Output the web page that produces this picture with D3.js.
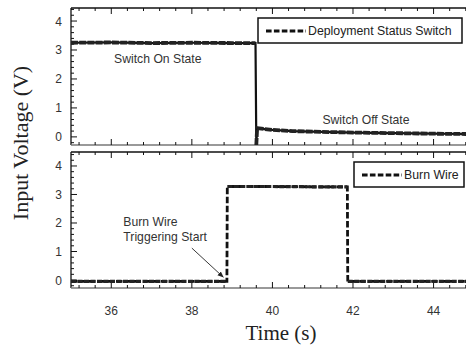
<!DOCTYPE html>
<html><head><meta charset="utf-8">
<script src="https://cdn.jsdelivr.net/npm/d3@7"></script>
<style>html,body{margin:0;padding:0;background:#fff;overflow:hidden}</style>
</head><body>
<svg id="c" width="466" height="347"></svg>
<script>
// Data
const switchTime  = [35.0, 36.0, 37.0, 38.0, 39.0, 39.58, 39.60, 39.62, 40.0, 40.5, 41.0, 42.0, 43.0, 44.0, 44.83];
const switchVolts = [3.25, 3.26, 3.24, 3.25, 3.24, 3.24, -0.28, 0.30, 0.24, 0.20, 0.18, 0.15, 0.13, 0.11, 0.10];
const burnTime  = [35.0, 36.0, 37.0, 38.0, 38.87, 38.88, 40.0, 41.0, 41.86, 41.87, 43.0, 44.83];
const burnVolts = [-0.05, -0.05, -0.05, -0.05, -0.05, 3.28, 3.28, 3.27, 3.27, -0.05, -0.05, -0.05];
const xTicks = [36, 38, 40, 42, 44];
const yTicks = [0, 1, 2, 3, 4];
const seriesNames = ["Deployment Status Switch", "Burn Wire"];

const svg = d3.select("#c");
const L = 71, R = 467;
const x = d3.scaleLinear().domain([35, 44.83]).range([L, R]);
const yTop = d3.scaleLinear().domain([-0.28, 4.45]).range([145, 8]);
const yBot = d3.scaleLinear().domain([-0.28, 4.49]).range([288, 152]);

const minorX = d3.range(35.2, 44.85, 0.4).filter(v => Math.abs(v/2 - Math.round(v/2)) > 0.01);
const minorY = d3.range(-0.2, 4.45, 0.2).filter(v => Math.abs(v - Math.round(v)) > 0.01);

function panel(y, showXLabels) {
  const g = svg.append("g");
  const [y0, y1] = y.range(); // bottom, top
  g.append("line").attr("x1", L).attr("x2", R).attr("y1", y1).attr("y2", y1).attr("stroke", "#111").attr("stroke-width", 1.3);
  g.append("line").attr("x1", L).attr("x2", L).attr("y1", y1).attr("y2", y0).attr("stroke", "#111").attr("stroke-width", 1.3);
  g.append("line").attr("x1", L).attr("x2", R).attr("y1", y0).attr("y2", y0).attr("stroke", "#777").attr("stroke-width", 1.6);
  xTicks.forEach(v => {
    g.append("line").attr("x1", x(v)).attr("x2", x(v)).attr("y1", y1).attr("y2", y1 + 6).attr("stroke", "#111");
    g.append("line").attr("x1", x(v)).attr("x2", x(v)).attr("y1", y0).attr("y2", y0 - 6).attr("stroke", "#111");
  });
  minorX.forEach(v => {
    g.append("line").attr("x1", x(v)).attr("x2", x(v)).attr("y1", y1).attr("y2", y1 + 3).attr("stroke", "#111");
    g.append("line").attr("x1", x(v)).attr("x2", x(v)).attr("y1", y0).attr("y2", y0 - 3).attr("stroke", "#111");
  });
  yTicks.forEach(v => {
    g.append("line").attr("x1", L).attr("x2", L + 6).attr("y1", y(v)).attr("y2", y(v)).attr("stroke", "#111");
    g.append("text").attr("x", 62).attr("y", y(v) + 4.5).attr("text-anchor", "end")
      .attr("font-family", "Liberation Sans, Arial, sans-serif").attr("font-size", 12).attr("fill", "#333").text(v);
  });
  minorY.forEach(v => {
    g.append("line").attr("x1", L).attr("x2", L + 3).attr("y1", y(v)).attr("y2", y(v)).attr("stroke", "#111");
  });
  if (showXLabels) {
    xTicks.forEach(v => {
      g.append("text").attr("x", x(v)).attr("y", 314.5).attr("text-anchor", "middle")
        .attr("font-family", "Liberation Sans, Arial, sans-serif").attr("font-size", 12).attr("fill", "#333").text(v);
    });
  }
}
panel(yTop, false);
panel(yBot, true);

// split a series into level (horizontal) runs
function levelRuns(ts, vs) {
  const runs = []; let cur = [[ts[0], vs[0]]];
  for (let i = 1; i < ts.length; i++) {
    if (Math.abs(vs[i] - vs[i - 1]) > 1) { runs.push(cur); cur = []; }
    cur.push([ts[i], vs[i]]);
  }
  runs.push(cur);
  return runs.filter(r => r.length > 1);
}

const lineTop = d3.line().x(d => x(d[0])).y(d => yTop(d[1]));
const lineBot = d3.line().x(d => x(d[0])).y(d => yBot(d[1]));
svg.append("path").datum(d3.zip(switchTime, switchVolts)).attr("d", lineTop)
  .attr("fill", "none").attr("stroke", "#111").attr("stroke-width", 2.2);
levelRuns(switchTime, switchVolts).forEach(r => {
  svg.append("path").datum(r).attr("d", lineTop)
    .attr("fill", "none").attr("stroke", "#222").attr("stroke-width", 3.8).attr("stroke-dasharray", "7,1.2");
});
svg.append("path").datum(d3.zip(burnTime, burnVolts)).attr("d", lineBot)
  .attr("fill", "none").attr("stroke", "#111").attr("stroke-width", 2.8).attr("stroke-dasharray", "6.5,2.5");
levelRuns(burnTime, burnVolts).forEach(r => {
  svg.append("path").datum(r).attr("d", lineBot)
    .attr("fill", "none").attr("stroke", "#222").attr("stroke-width", 3.2).attr("stroke-dasharray", "5,1.5");
});

// legends
function legend(x0, y0, w, h, name) {
  svg.append("rect").attr("x", x0).attr("y", y0).attr("width", w).attr("height", h)
    .attr("fill", "#fff").attr("stroke", "#111").attr("stroke-width", 1.5);
  svg.append("line").attr("x1", x0 + 8).attr("x2", x0 + 48).attr("y1", y0 + h / 2 + 0.5).attr("y2", y0 + h / 2 + 0.5)
    .attr("stroke", "#111").attr("stroke-width", 3).attr("stroke-dasharray", "5.6,2.3");
  svg.append("text").attr("x", x0 + 50).attr("y", y0 + h / 2 + 4.5)
    .attr("font-family", "Liberation Sans, Arial, sans-serif").attr("font-size", 12.3).attr("fill", "#222").text(name);
}
legend(258, 18, 204, 25, seriesNames[0]);
legend(354, 162, 110, 25, seriesNames[1]);

// annotations
const ann = { "font-family": "Liberation Sans, Arial, sans-serif", "font-size": 12.2, "fill": "#333" };
function txt(xp, yp, s) {
  const t = svg.append("text").attr("x", xp).attr("y", yp).text(s);
  Object.entries(ann).forEach(([k, v]) => t.attr(k, v));
}
txt(x(36.07), yTop(2.55), "Switch On State");
txt(x(41.24), yTop(0.45), "Switch Off State");
txt(x(36.3), yBot(1.9), "Burn Wire");
txt(x(36.3), yBot(1.37), "Triggering Start");

svg.append("defs").append("marker").attr("id", "ah").attr("viewBox", "0 0 10 10").attr("refX", 9).attr("refY", 5)
  .attr("markerWidth", 7).attr("markerHeight", 7).attr("orient", "auto")
  .append("path").attr("d", "M0,1 L10,5 L0,9 Z").attr("fill", "#222");
svg.append("line").attr("x1", x(38.0)).attr("y1", yBot(1.12)).attr("x2", x(38.78)).attr("y2", yBot(0.1))
  .attr("stroke", "#222").attr("stroke-width", 0.9).attr("marker-end", "url(#ah)");

// axis titles
svg.append("text").attr("transform", "translate(28,143) rotate(-90)").attr("text-anchor", "middle")
  .attr("font-family", "Liberation Serif, Times New Roman, serif").attr("font-size", 22).attr("fill", "#222").text("Input Voltage (V)");
svg.append("text").attr("x", 281).attr("y", 340).attr("text-anchor", "middle")
  .attr("font-family", "Liberation Serif, Times New Roman, serif").attr("font-size", 21).attr("fill", "#222").text("Time (s)");
</script>
</body></html>
